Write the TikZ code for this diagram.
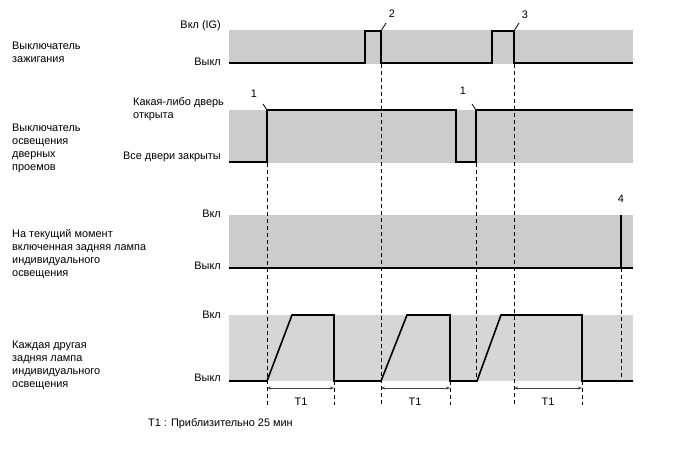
\documentclass[tikz,border=0pt]{standalone}
\usepackage{fontspec}
\setmainfont{Liberation Sans}
\usetikzlibrary{arrows.meta}
\definecolor{bandA}{RGB}{204,204,204}
\definecolor{bandB}{RGB}{214,214,214}
\tikzset{
  lbl/.style={font=\fontsize{10.9}{13}\selectfont, inner sep=0pt, align=left},
  rlbl/.style={lbl, anchor=east},
  band/.style={fill=bandA, draw=none},
  bandb/.style={fill=bandB, draw=none},
  sig/.style={line width=1.6pt, line join=miter},
  guide/.style={dash pattern=on 4pt off 3pt, line width=0.8pt},
  marktick/.style={line width=0.8pt},
  dim/.style={{Stealth[length=4pt,width=3pt]}-{Stealth[length=4pt,width=3pt]}, line width=0.9pt, draw=black!75},
}
\begin{document}
\begin{tikzpicture}[x=1pt,y=-1pt]
\useasboundingbox[fill=white] (0,0) rectangle (688,463);
% bands
\fill[band] (229,30) rectangle (633,64);
\fill[band] (229,110) rectangle (633,163);
\fill[band] (229,215) rectangle (633,268);
\fill[bandb] (229,315) rectangle (633,381);

% dashed verticals
\draw[guide] (267,163) -- (267,405);
\draw[guide] (381,64) -- (381,405);
\draw[guide] (476,163) -- (476,381);
\draw[guide] (514,64) -- (514,405);
\draw[guide] (621,268) -- (621,381);
\draw[guide] (334,381) -- (334,405);
\draw[guide] (450,381) -- (450,405);
\draw[guide] (582,381) -- (582,405);

% signals
\draw[sig] (229,63) -- (365,63) -- (365,31) -- (381,31) -- (381,63) -- (492,63) -- (492,31) -- (514,31) -- (514,63) -- (633,63);
\draw[sig] (229,162) -- (267,162) -- (267,110) -- (456,110) -- (456,162) -- (476,162) -- (476,110) -- (633,110);
\draw[sig] (229,268) -- (633,268);
\draw[sig] (621,215) -- (621,268);
\draw[sig] (229,381) -- (267,381) -- (292,315) -- (334,315) -- (334,381) -- (381,381) -- (407,315) -- (450,315) -- (450,381) -- (477,381) -- (501,315) -- (582,315) -- (582,381) -- (633,381);

% ticks for markers
\draw[marktick] (381,31) -- (386,23);
\draw[marktick] (514,31) -- (519,23);
\draw[marktick] (267,110) -- (263,104);
\draw[marktick] (476,110) -- (472,104);

% markers
\node[lbl] (m2) at (392,14) {2};
\node[lbl] (m3) at (525,15) {3};
\node[lbl] (m1a) at (254,94) {1};
\node[lbl] (m1b) at (463,91) {1};
\node[lbl] (m4) at (621,199) {4};

% T1 dims
\coordinate (a1) at (267,388); \coordinate (b1) at (334,388);
\coordinate (a2) at (381,388); \coordinate (b2) at (450,388);
\coordinate (a3) at (514,388); \coordinate (b3) at (582,388);
\draw[dim] (a1) -- (b1);
\draw[dim] (a2) -- (b2);
\draw[dim] (a3) -- (b3);
\node[lbl] (t1a) at (301,402) {T1};
\node[lbl] (t1b) at (415,402) {T1};
\node[lbl] (t1c) at (548,402) {T1};
\node[lbl, anchor=west] (note) at (148,424) {T1 : Приблизительно 25 мин};

% right-side level labels
\node[rlbl] (r1a) at (221,26) {Вкл (IG)};
\node[rlbl] (r1b) at (221,62) {Выкл};
\node[lbl, anchor=west] (r2a) at (133,103) {Какая-либо дверь};
\node[lbl, anchor=west] (r2b) at (133,117) {открыта};
\node[rlbl] (r2c) at (221,157) {Все двери закрыты};
\node[rlbl] (r3a) at (221,214) {Вкл};
\node[rlbl] (r3b) at (221,266) {Выкл};
\node[rlbl] (r4a) at (221,315) {Вкл};
\node[rlbl] (r4b) at (221,378) {Выкл};

% left titles
\node[lbl, anchor=north west] (g1) at (12,42) {Выключатель\\зажигания};
\node[lbl, anchor=north west] (g2) at (12,124) {Выключатель\\освещения\\дверных\\проемов};
\node[lbl, anchor=north west] (g3) at (12,229) {На текущий момент\\включенная задняя лампа\\индивидуального\\освещения};
\node[lbl, anchor=north west] (g4) at (12,341) {Каждая другая\\задняя лампа\\индивидуального\\освещения};
\end{tikzpicture}
\end{document}
